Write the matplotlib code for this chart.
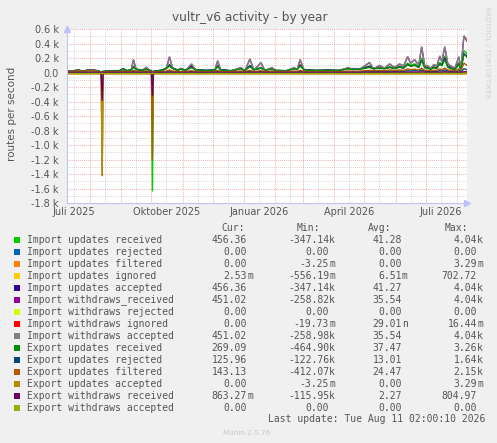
import numpy as np
import matplotlib
matplotlib.use('Agg')
import matplotlib.pyplot as plt
from matplotlib.patches import Rectangle

nan = np.nan

# day offsets from 2025-07-09 (one sample per point)
days = [0, 5, 11, 16, 21, 26, 32, 33, 34, 35, 36, 45, 52, 56, 60, 64, 66, 69, 75, 79,
        82, 84, 85, 86, 95, 99, 102, 105, 110, 113, 118, 124, 128, 138, 147, 150, 153, 163, 173, 177,
        182, 186, 193, 197, 204, 208, 218, 226, 229, 232, 236, 248, 260, 270, 280, 284, 292, 301, 305, 311,
        316, 321, 326, 331, 335, 339, 342, 346, 350, 353, 356, 358, 362, 365, 368, 371, 373, 376, 379, 383,
        386, 390, 392, 395, 397, 398]

imp_wd_acc = [15, 15, 30, 15, 30, 30, 15, nan, 5, -50, 10, 15, 15, 40, 15, 30, 180, 40, 20, 70,
              20, 15, -40, 10, 25, 60, 220, 60, 25, 50, 25, 120, 30, 20, 25, 165, 30, 15, 70, 20,
              190, 30, 140, 25, 70, 20, 15, 70, 40, 180, 30, 20, 25, 20, 70, 40, 50, 140, 50, 100,
              60, 120, 70, 120, 90, 220, 130, 180, 100, 360, 90, 100, 60, 110, 90, 230, 150, 360, 120, 80,
              60, 220, 50, 510, 470, 440]
imp_wd_recv = [15, 15, 30, 15, 30, 30, 15, nan, 5, -60, 10, 15, 15, 40, 15, 30, 175, 40, 20, 65,
               20, 15, -50, 10, 25, 60, 215, 60, 25, 50, 25, 115, 30, 20, 25, 160, 30, 15, 65, 20,
               185, 30, 135, 25, 65, 20, 15, 65, 40, 175, 30, 20, 25, 20, 65, 40, 50, 135, 50, 95,
               60, 115, 70, 115, 90, 215, 130, 175, 100, 350, 90, 95, 60, 105, 90, 225, 150, 350, 120, 80,
               60, 215, 50, 500, 460, 430]
imp_upd_recv = [20, 20, 35, 20, 35, 35, 20, nan, 5, -70, 15, 25, 25, 55, 25, 45, 90, 50, 30, 60,
                30, 25, -1640, 15, 35, 70, 110, 70, 35, 55, 35, 80, 40, 30, 35, 100, 40, 25, 60, 30,
                100, 40, 70, 35, 55, 30, 25, 60, 45, 110, 40, 30, 35, 30, 60, 50, 55, 90, 60, 70,
                60, 80, 65, 85, 70, 130, 100, 120, 80, 200, 80, 75, 55, 80, 70, 140, 110, 230, 90, 60,
                50, 140, 45, 300, 280, 260]
imp_upd_acc = [20, 20, 35, 20, 35, 35, 20, nan, 5, -40, 15, 25, 25, 50, 25, 40, 80, 45, 30, 70,
               30, 25, -30, 15, 35, 60, 100, 60, 35, 50, 35, 90, 40, 30, 35, 90, 40, 25, 55, 30,
               90, 40, 60, 35, 50, 30, 25, 55, 45, 100, 40, 30, 35, 30, 55, 45, 50, 80, 55, 60,
               55, 70, 60, 75, 65, 110, 90, 100, 70, 170, 70, 65, 50, 70, 60, 120, 100, 200, 80, 55,
               45, 120, 40, 260, 240, 220]
exp_upd_recv = [15, 15, 30, 15, 30, 30, 15, nan, 5, -300, 15, 20, 20, 45, 20, 35, 70, 40, 25, 45,
                25, 20, -200, 15, 30, 55, 90, 55, 30, 45, 30, 65, 35, 25, 30, 80, 35, 20, 50, 25,
                80, 35, 60, 30, 45, 25, 20, 50, 40, 90, 35, 25, 30, 25, 50, 40, 45, 70, 50, 60,
                50, 70, 55, 70, 60, 110, 85, 100, 70, 170, 65, 60, 45, 65, 55, 120, 90, 180, 70, 50,
                45, 110, 40, 250, 230, 210]
exp_upd_rej = [5, 5, 5, 5, 5, 5, 5, nan, 0, -200, 5, 5, 5, 10, 5, 8, 20, 8, 5, 15,
               5, 5, -150, 5, 5, 10, 25, 10, 5, 8, 5, 15, 5, 5, 5, 20, 5, 5, 10, 5,
               20, 5, 15, 5, 10, 5, 5, 10, 8, 20, 5, 5, 5, 5, 10, 8, 10, 20, 10, 15,
               10, 20, 15, 20, 15, 25, 20, 25, 20, 35, 20, 15, 10, 15, 15, 25, 20, 35, 20, 15,
               10, 25, 10, 50, 45, 40]
exp_upd_filt = [12, 12, 25, 12, 25, 25, 12, nan, 5, -1430, 10, 12, 12, 20, 12, 15, 30, 15, 12, 20,
                12, 12, -1210, 10, 12, 20, 35, 20, 12, 15, 12, 25, 12, 12, 12, 30, 12, 12, 20, 12,
                30, 12, 25, 12, 20, 12, 12, 20, 15, 30, 12, 12, 12, 12, 20, 15, 20, 30, 25, 30,
                25, 35, 30, 35, 30, 50, 40, 45, 35, 60, 30, 30, 25, 30, 30, 50, 40, 60, 35, 30,
                25, 50, 20, 130, 110, 100]
exp_upd_acc = [0, 0, 0, 0, 0, 0, 0, nan, 0, -1400, 0, 0, 0, 0, 0, 0, 0, 0, 0, 0,
               0, 0, 0, 0, 0, 0, 0, 0, 0, 0, 0, 0, 0, 0, 0, 0, 0, 0, 0, 0,
               0, 0, 0, 0, 0, 0, 0, 0, 0, 0, 0, 0, 0, 0, 0, 0, 0, 0, 0, 0,
               0, 0, 0, 0, 0, 0, 0, 0, 0, 0, 0, 0, 0, 0, 0, 0, 0, 0, 0, 0,
               0, 0, 0, 0, 0, 0]
exp_wd_recv = [3, 3, 3, 3, 3, 3, 3, nan, 0, -390, 3, 3, 3, 3, 3, 3, 5, 3, 3, 5,
               3, 3, -320, 3, 3, 3, 5, 3, 3, 3, 3, 5, 3, 3, 3, 5, 3, 3, 3, 3,
               5, 3, 5, 3, 3, 3, 3, 3, 3, 5, 3, 3, 3, 3, 3, 3, 3, 5, 3, 5,
               3, 5, 5, 5, 5, 5, 5, 5, 5, 10, 5, 5, 3, 5, 5, 5, 5, 10, 5, 5,
               3, 5, 3, 10, 10, 10]
flat = [0.0] * 7 + [nan] + [0.0] * 78

labels = ['Import updates received', 'Import updates rejected', 'Import updates filtered',
          'Import updates ignored', 'Import updates accepted', 'Import withdraws_received',
          'Import withdraws rejected', 'Import withdraws ignored', 'Import withdraws accepted',
          'Export updates received', 'Export updates rejected', 'Export updates filtered',
          'Export updates accepted', 'Export withdraws received', 'Export withdraws accepted']
colors = ['#00CC00', '#0066B3', '#FF8000', '#FFCC00', '#330099', '#990099', '#CCFF00', '#FF0000',
          '#808080', '#008F00', '#00487D', '#B35A00', '#B38F00', '#6B006B', '#8FB300']
series = [imp_upd_recv, flat, flat, flat, imp_upd_acc, imp_wd_recv, flat, flat, imp_wd_acc,
          exp_upd_recv, exp_upd_rej, exp_upd_filt, exp_upd_acc, exp_wd_recv, flat]

cur = ['456.36', '0.00', '0.00', '2.53m', '456.36', '451.02', '0.00', '0.00', '451.02',
       '269.09', '125.96', '143.13', '0.00', '863.27m', '0.00']
vmin = ['-347.14k', '0.00', '-3.25m', '-556.19m', '-347.14k', '-258.82k', '0.00', '-19.73m',
        '-258.98k', '-464.90k', '-122.76k', '-412.07k', '-3.25m', '-115.95k', '0.00']
avg = ['41.28', '0.00', '0.00', '6.51m', '41.27', '35.54', '0.00', '29.01n', '35.54',
       '37.47', '13.01', '24.47', '0.00', '2.27', '0.00']
vmax = ['4.04k', '0.00', '3.29m', '702.72', '4.04k', '4.04k', '0.00', '16.44m', '4.04k',
        '3.26k', '1.64k', '2.15k', '3.29m', '804.97', '0.00']

for s in series:
    assert len(s) == len(days), len(s)

W, H = 497, 443
TXT = '#555555'
start = np.datetime64('2025-07-09T00:00')
end = np.datetime64('2026-08-11T02:00')
dates = start + np.array(days).astype('timedelta64[D]')

fig = plt.figure(figsize=(W / 100, H / 100), dpi=100, facecolor='#F0F0F0')
ax = fig.add_axes([67 / W, 1 - 203 / H, 400 / W, 174 / H], facecolor='white')

# grid like rrdtool: minor grey dots, major red dots
for v in range(-1800, 700, 100):
    major = v % 200 == 0
    ax.axhline(v, color='#E89090' if major else '#C8C8C8', lw=0.6,
               dashes=(1, 1.5), zorder=0)
months = np.arange(np.datetime64('2025-07'), np.datetime64('2026-09'), np.timedelta64(1, 'M'))
for m in months:
    mid = m.astype('datetime64[D]') + np.timedelta64(15, 'D')
    ax.axvline(mid, color='#C8C8C8', lw=0.6, dashes=(1, 1.5), zorder=0)
    if m > np.datetime64('2025-07'):
        ax.axvline(m.astype('datetime64[D]'), color='#E89090', lw=0.6, dashes=(1, 1.5), zorder=0)

for s, c in zip(series, colors):
    ax.plot(dates, s, color=c, lw=1.0, solid_joinstyle='miter', zorder=2)

ax.set_xlim(start, end)
ax.set_ylim(-1800, 600)
yt = list(range(-1800, 700, 200))
ax.set_yticks(yt)
ax.set_yticklabels(['0.0' if v == 0 else '%.1f k' % (v / 1000) for v in yt])
xl = ['2025-07-16', '2025-10-16', '2026-01-16', '2026-04-16', '2026-07-16']
ax.set_xticks([np.datetime64(d) for d in xl])
ax.set_xticklabels(['Juli 2025', 'Oktober 2025', 'Januar 2026', 'April 2026', 'Juli 2026'])
ax.tick_params(axis='both', length=0, labelsize=7, colors=TXT)
ax.tick_params(axis='y', pad=6)
ax.tick_params(axis='x', pad=3)
for sp in ['top', 'right']:
    ax.spines[sp].set_visible(False)
for sp in ['left', 'bottom']:
    ax.spines[sp].set_color('#C0C4F0')
    ax.spines[sp].set_linewidth(0.8)
ax.plot([0], [1.0], marker='^', ms=4, color='#B8C0FF', transform=ax.transAxes, clip_on=False)
ax.plot([1.0], [0], marker='>', ms=4, color='#B8C0FF', transform=ax.transAxes, clip_on=False)

fig.text(250 / W, 1 - 17 / H, 'vultr_v6 activity - by year', ha='center', va='center',
         fontsize=8.7, color=TXT)
fig.text(12 / W, 1 - 114 / H, 'routes per second', rotation=90, ha='center', va='center',
         fontsize=7.5, color=TXT)
fig.text(487 / W, 1 - 52 / H, 'RRDTOOL / TOBI OETIKER', rotation=270, ha='center', va='center',
         fontsize=5.2, color='#D0D0D0')

# legend block
mono = 'DejaVu Sans Mono'
def px(x, y):
    return x / W, 1 - y / H

for head, xr in [('Cur:', 245), ('Min:', 320), ('Avg:', 391), ('Max:', 468)]:
    fig.text(*px(xr, 228), head, ha='right', va='center', family=mono, fontsize=7, color=TXT)

cols = [(cur, 247), (vmin, 329), (avg, 402), (vmax, 477)]
for i, (lab, c) in enumerate(zip(labels, colors)):
    y = 240 + 12 * i
    fig.add_artist(Rectangle(px(14, y + 3), 6 / W, 6 / H, transform=fig.transFigure,
                             color=c, lw=0))
    fig.text(*px(27, y), lab, ha='left', va='center', family=mono, fontsize=7, color=TXT)
    for vals, xr in cols:
        v = vals[i]
        num, suf = (v[:-1], v[-1]) if v[-1].isalpha() else (v, '')
        fig.text(*px(xr, y), num, ha='right', va='center', family=mono, fontsize=7, color=TXT)
        if suf:
            fig.text(*px(xr, y), suf, ha='left', va='center', family=mono, fontsize=7, color=TXT)

fig.text(*px(485, 419), 'Last update: Tue Aug 11 02:00:10 2026', ha='right', va='center',
         family=mono, fontsize=7, color=TXT)
fig.text(*px(223, 433), 'Munin 2.0.76', ha='left', va='center', fontsize=5.2, color='#C8C8C8')

fig.savefig('out.png', dpi=100, facecolor=fig.get_facecolor())
